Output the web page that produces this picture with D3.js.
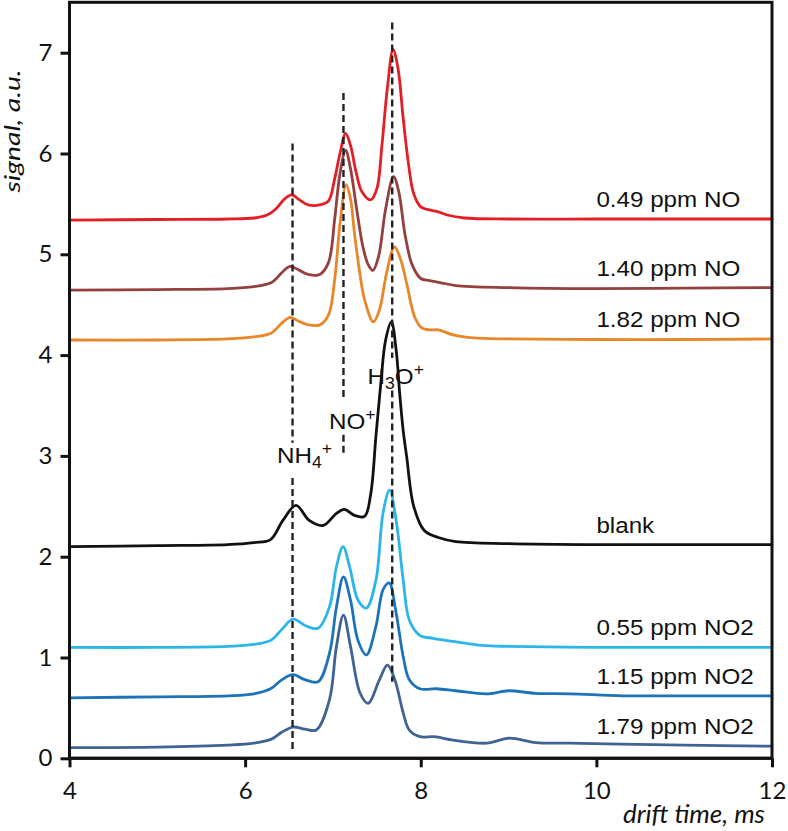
<!DOCTYPE html>
<html><head><meta charset="utf-8">
<script src="https://cdn.jsdelivr.net/npm/d3@7"></script>
<style>html,body{margin:0;padding:0;background:#fff;} svg{display:block;}</style>
</head><body><svg id="c" width="788" height="831"></svg>
<script>
// ---- data (drift time in ms, signal in a.u.) ----
const xTicks = [4, 6, 8, 10, 12];
const yTicks = [0, 1, 2, 3, 4, 5, 6, 7];

const no049 = [[4,5.34],[5,5.345],[5.8,5.35],[6.1,5.36],[6.25,5.39],[6.35,5.45],[6.45,5.55],[6.53,5.59],[6.62,5.54],[6.72,5.49],[6.85,5.49],[6.95,5.53],[7.02,5.75],[7.08,6.0],[7.145,6.20],[7.2,6.08],[7.26,5.83],[7.33,5.62],[7.43,5.54],[7.5,5.65],[7.56,6.1],[7.62,6.65],[7.685,7.03],[7.74,6.85],[7.8,6.35],[7.86,5.9],[7.92,5.6],[8.0,5.47],[8.1,5.44],[8.2,5.42],[8.3,5.39],[8.5,5.36],[9,5.35],[10,5.35],[11,5.35],[12,5.35]];
const no140 = [[4,4.645],[5,4.65],[5.8,4.66],[6.1,4.68],[6.3,4.72],[6.42,4.82],[6.51,4.88],[6.6,4.85],[6.72,4.80],[6.85,4.80],[6.95,4.92],[7.02,5.35],[7.08,5.8],[7.145,6.03],[7.2,5.85],[7.27,5.45],[7.34,5.08],[7.4,4.9],[7.455,4.84],[7.52,4.98],[7.6,5.45],[7.69,5.77],[7.75,5.62],[7.82,5.2],[7.9,4.9],[8.0,4.76],[8.1,4.74],[8.22,4.72],[8.4,4.69],[9,4.67],[10,4.66],[11,4.665],[12,4.67]];
const no182 = [[4,4.15],[5,4.15],[5.8,4.16],[6.1,4.18],[6.3,4.22],[6.42,4.32],[6.515,4.375],[6.6,4.34],[6.72,4.30],[6.85,4.30],[6.95,4.40],[7.02,4.75],[7.08,5.30],[7.15,5.69],[7.2,5.55],[7.245,5.21],[7.3,4.85],[7.36,4.55],[7.46,4.33],[7.53,4.45],[7.61,4.81],[7.70,5.075],[7.77,4.95],[7.84,4.71],[7.93,4.38],[8.01,4.27],[8.1,4.25],[8.2,4.25],[8.37,4.20],[8.6,4.17],[9,4.16],[10,4.155],[11,4.155],[12,4.16]];
const blank = [[4,2.10],[5,2.11],[5.8,2.12],[6.1,2.14],[6.29,2.17],[6.43,2.36],[6.58,2.51],[6.73,2.36],[6.89,2.31],[7.04,2.43],[7.13,2.47],[7.245,2.41],[7.36,2.40],[7.43,2.62],[7.49,3.2],[7.545,3.72],[7.6,4.15],[7.665,4.33],[7.72,4.05],[7.76,3.62],[7.80,3.25],[7.84,2.99],[7.92,2.50],[8.04,2.26],[8.2,2.19],[8.4,2.15],[9,2.13],[10,2.12],[11,2.12],[12,2.12]];
const no2055 = [[4,1.10],[5,1.10],[5.8,1.11],[6.1,1.13],[6.29,1.17],[6.42,1.28],[6.545,1.38],[6.70,1.31],[6.83,1.29],[6.96,1.50],[7.04,1.90],[7.115,2.10],[7.19,1.90],[7.285,1.57],[7.38,1.49],[7.49,1.77],[7.57,2.43],[7.645,2.66],[7.72,2.36],[7.80,1.77],[7.87,1.37],[7.99,1.22],[8.14,1.19],[8.37,1.16],[8.7,1.12],[9,1.11],[10,1.10],[11,1.10],[12,1.10]];
const no2115 = [[4,0.60],[5,0.61],[5.8,0.62],[6.1,0.64],[6.29,0.69],[6.42,0.78],[6.545,0.83],[6.68,0.78],[6.83,0.76],[6.96,1.04],[7.04,1.50],[7.12,1.80],[7.20,1.57],[7.285,1.17],[7.38,1.025],[7.49,1.31],[7.57,1.67],[7.64,1.74],[7.72,1.44],[7.80,1.01],[7.87,0.78],[7.99,0.69],[8.18,0.69],[8.4,0.67],[8.75,0.64],[9.0,0.67],[9.3,0.645],[9.7,0.64],[10.3,0.62],[11,0.62],[12,0.62]];
const no2179 = [[4,0.105],[5,0.11],[5.8,0.13],[6.1,0.15],[6.3,0.19],[6.42,0.26],[6.545,0.31],[6.68,0.29],[6.81,0.28],[6.96,0.58],[7.04,1.11],[7.12,1.42],[7.20,1.11],[7.31,0.645],[7.40,0.545],[7.53,0.78],[7.62,0.925],[7.705,0.78],[7.80,0.45],[7.87,0.28],[7.99,0.215],[8.15,0.215],[8.37,0.18],[8.75,0.15],[9.01,0.20],[9.31,0.155],[9.69,0.15],[10.27,0.14],[11,0.13],[12,0.12]];

// drawn bottom to top
const seriesData   = [no2179, no2115, no2055, blank, no182, no140, no049];
const seriesLabels = ["1.79 ppm NO2", "1.15 ppm NO2", "0.55 ppm NO2", "blank", "1.82 ppm NO", "1.40 ppm NO", "0.49 ppm NO"];
const seriesColors = ["#3f6393", "#1c73b9", "#2cb5e9", "#111111", "#e8862a", "#93403f", "#e41e26"];
const labelStartTime = 10;

// ion reference lines: drift time, dashed segments [from,to] in signal units, label anchor
const ionTimes    = [6.54, 7.12, 7.675];
const ionSegments = [[[6.10,3.13],[2.78,0.06]], [[6.60,3.58],[3.21,3.01]], [[7.30,3.97],[3.65,0.76]]];
const ionLabelAt  = [[6.676,2.93],[7.22,3.27],[7.715,3.71]];
const ionLabels   = [[["NH",0],["4",1],["+",2]], [["NO",0],["+",2]], [["H",0],["3",1],["O",0],["+",2]]];

// ---- drawing ----
const svg = d3.select("#c");
const L = 69.5, R = 772, T = 2.3, B = 758.3;
const x = d3.scaleLinear().domain([4, 12]).range([L, R]);
const y = d3.scaleLinear().domain([0, 7.5]).range([B, T]);

const line = d3.line().x(d => x(d[0])).y(d => y(d[1])).curve(d3.curveCatmullRom.alpha(0.5));

seriesData.forEach((s, i) => {
  svg.append("path").attr("d", line(s)).attr("fill", "none")
    .attr("stroke", seriesColors[i]).attr("stroke-width", 2.8)
    .attr("stroke-linejoin", "round").attr("stroke-linecap", "round");
});

// series labels
seriesData.forEach((s, i) => {
  const last = s[s.length - 1][1];
  svg.append("text")
    .attr("transform", `translate(${x(labelStartTime)},${y(last) - 12}) scale(1.1,1)`)
    .attr("font-family", "'Liberation Sans', Arial, sans-serif")
    .attr("font-size", 22).attr("fill", "#111")
    .text(seriesLabels[i]);
});

// dashed ion lines
ionTimes.forEach((t, i) => {
  ionSegments[i].forEach(seg => {
    svg.append("line").attr("x1", x(t)).attr("x2", x(t))
      .attr("y1", y(seg[0])).attr("y2", y(seg[1]))
      .attr("stroke", "#222").attr("stroke-width", 2.4)
      .attr("stroke-dasharray", "7,4");
  });
  const lab = svg.append("text")
    .attr("transform", `translate(${x(ionLabelAt[i][0])},${y(ionLabelAt[i][1])}) scale(1.1,1)`)
    .attr("text-anchor", "middle")
    .attr("font-family", "'Liberation Sans', Arial, sans-serif")
    .attr("font-size", 22).attr("fill", "#111");
  let prev = 0;
  ionLabels[i].forEach(([str, kind]) => {
    const off = kind === 1 ? 5 : kind === 2 ? -9 : 0;
    lab.append("tspan").attr("dy", off - prev).attr("font-size", kind === 0 ? 22 : 16).text(str);
    prev = off;
  });
});

// frame
svg.append("rect").attr("x", L).attr("y", T).attr("width", R - L).attr("height", B - T)
  .attr("fill", "none").attr("stroke", "#111").attr("stroke-width", 3);

// axes
const xAxis = d3.axisBottom(x).tickValues(xTicks).tickSize(9).tickPadding(15).tickFormat(d3.format("d"));
const yAxis = d3.axisLeft(y).tickValues(yTicks).tickSize(9).tickPadding(8).tickFormat(d3.format("d"));
const gx = svg.append("g").attr("transform", `translate(0,${B})`).call(xAxis);
const gy = svg.append("g").attr("transform", `translate(${L},0)`).call(yAxis);
[gx, gy].forEach(g => {
  g.select(".domain").attr("stroke", "#111").attr("stroke-width", 3);
  g.selectAll(".tick line").attr("stroke", "#111").attr("stroke-width", 3);
  g.selectAll(".tick text").attr("fill", "#111")
    .attr("font-family", "Lato, 'Open Sans', sans-serif").attr("font-size", 24);
});
gx.selectAll(".tick text").attr("dy", "0");
gx.selectAll(".tick text").attr("y", 9 + 15 + 17);
gx.select(".domain").attr("d", `M${L},0H${R}`);
gy.select(".domain").attr("d", `M0,${T}V${B}`);

// axis titles
svg.append("text").attr("x", 765).attr("y", 823).attr("text-anchor", "end")
  .attr("font-family", "Lato, 'Open Sans', sans-serif").attr("font-style", "italic")
  .attr("font-size", 26).attr("fill", "#111").text("drift time, ms");
svg.append("text").attr("transform", "translate(20,131) rotate(-90)")
  .attr("text-anchor", "middle")
  .attr("font-family", "Lato, 'Open Sans', sans-serif").attr("font-style", "italic")
  .attr("font-size", 21).attr("textLength", 123).attr("lengthAdjust", "spacingAndGlyphs")
  .attr("fill", "#111").text("signal, a.u.");
</script></body></html>
